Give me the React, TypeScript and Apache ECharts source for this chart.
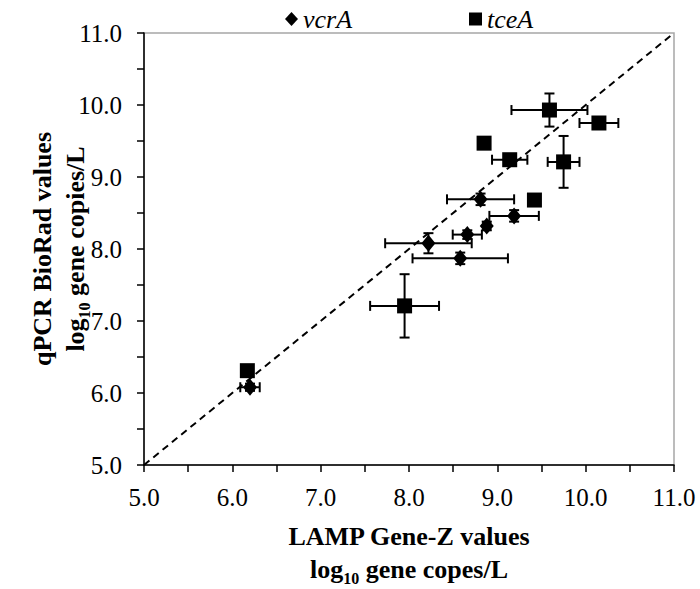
import React, { useEffect, useRef } from "react";
import * as echarts from "echarts";

// vcrA: [LAMP x, qPCR y, x error, y error]
const vcrA: number[][] = [
  [8.81, 8.69, 0.38, 0.08],
  [9.19, 8.46, 0.28, 0.08],
  [8.88, 8.32, 0.04, 0.06],
  [8.66, 8.2, 0.165, 0.06],
  [8.22, 8.08, 0.49, 0.14],
  [8.58, 7.87, 0.54, 0.08],
  [6.2, 6.08, 0.11, 0.05],
];

// tceA: [LAMP x, qPCR y, x error, y error]
const tceA: number[][] = [
  [9.59, 9.93, 0.43, 0.23],
  [10.15, 9.75, 0.22, 0.03],
  [8.85, 9.47, 0.03, 0.04],
  [9.14, 9.24, 0.2, 0.06],
  [9.75, 9.21, 0.18, 0.36],
  [9.42, 8.68, 0.02, 0.02],
  [7.95, 7.21, 0.39, 0.44],
  [6.17, 6.31, 0.02, 0.03],
];

const oneToOne: number[][] = [
  [5, 5],
  [11, 11],
];

const axisMin = 5;
const axisMax = 11;

const FONT = "Liberation Serif";

function errorBars(data: number[][], name: string) {
  return {
    type: "custom",
    name: name + "-err",
    data: data,
    z: 2,
    silent: true,
    encode: { x: 0, y: 1 },
    renderItem: (params: any, api: any) => {
      const x = api.value(0);
      const y = api.value(1);
      const ex = api.value(2);
      const ey = api.value(3);
      const c = api.coord([x, y]);
      const l = api.coord([x - ex, y]);
      const r = api.coord([x + ex, y]);
      const t = api.coord([x, y + ey]);
      const b = api.coord([x, y - ey]);
      const cap = 5;
      const style = { stroke: "#000", lineWidth: 2 };
      return {
        type: "group",
        children: [
          { type: "line", shape: { x1: l[0], y1: c[1], x2: r[0], y2: c[1] }, style },
          { type: "line", shape: { x1: l[0], y1: c[1] - cap, x2: l[0], y2: c[1] + cap }, style },
          { type: "line", shape: { x1: r[0], y1: c[1] - cap, x2: r[0], y2: c[1] + cap }, style },
          { type: "line", shape: { x1: c[0], y1: t[1], x2: c[0], y2: b[1] }, style },
          { type: "line", shape: { x1: c[0] - cap, y1: t[1], x2: c[0] + cap, y2: t[1] }, style },
          { type: "line", shape: { x1: c[0] - cap, y1: b[1], x2: c[0] + cap, y2: b[1] }, style },
        ],
      };
    },
  };
}

export default function App() {
  const ref = useRef<HTMLDivElement>(null);
  useEffect(() => {
    if (!ref.current) return;
    const chart = echarts.init(ref.current, undefined, { renderer: "svg" });
    const tickLabel = {
      fontFamily: FONT,
      fontSize: 25,
      color: "#000",
      formatter: (v: number) => (Math.abs(v - Math.round(v)) < 1e-6 ? v.toFixed(1) : ""),
    };
    const option: any = {
      animation: false,
      backgroundColor: "#fff",
      grid: {
        left: 144,
        right: 26,
        top: 33,
        bottom: 124,
        show: true,
        borderColor: "#a6a6a6",
        borderWidth: 1.5,
        containLabel: false,
      },
      legend: [
        {
          data: [{ name: "vcrA", icon: "diamond" }],
          left: 280,
          top: 1,
          itemWidth: 13,
          itemHeight: 14,
          itemGap: 6,
          textStyle: { fontFamily: FONT, fontSize: 26, fontStyle: "italic", color: "#000" },
        },
        {
          data: [{ name: "tceA", icon: "rect" }],
          left: 464,
          top: 1,
          itemWidth: 13,
          itemHeight: 13,
          textStyle: { fontFamily: FONT, fontSize: 26, fontStyle: "italic", color: "#000" },
        },
      ],
      xAxis: {
        type: "value",
        min: axisMin,
        max: axisMax,
        interval: 0.5,
        axisLine: { show: true, onZero: false, lineStyle: { color: "#000", width: 1.5 } },
        axisTick: { show: true, inside: false, length: 7, lineStyle: { color: "#000", width: 1.5 } },
        axisLabel: { ...tickLabel, margin: 20, showMaxLabel: true, showMinLabel: true },
        splitLine: { show: false },
      },
      yAxis: {
        type: "value",
        min: axisMin,
        max: axisMax,
        interval: 0.5,
        axisLine: { show: true, onZero: false, lineStyle: { color: "#000", width: 1.5 } },
        axisTick: { show: true, inside: false, length: 7, lineStyle: { color: "#000", width: 1.5 } },
        axisLabel: { ...tickLabel, margin: 22, showMaxLabel: true, showMinLabel: true },
        splitLine: { show: false },
      },
      graphic: [
        {
          type: "text",
          x: 409,
          y: 553,
          style: {
            text: "{b|LAMP Gene-Z values}\n{b|log}{s|10}{b| gene copes/L}",
            align: "center",
            verticalAlign: "middle",
            fill: "#000",
            rich: {
              b: { fontFamily: FONT, fontSize: 26, fontWeight: "bold", lineHeight: 33, verticalAlign: "middle" },
              s: { fontFamily: FONT, fontSize: 16, fontWeight: "bold", lineHeight: 16, verticalAlign: "bottom" },
            },
          },
        },
        {
          type: "text",
          x: 59,
          y: 249,
          rotation: Math.PI / 2,
          style: {
            text: "{b|qPCR BioRad values}\n{b|log}{s|10}{b| gene copies/L}",
            align: "center",
            verticalAlign: "middle",
            fill: "#000",
            rich: {
              b: { fontFamily: FONT, fontSize: 26, fontWeight: "bold", lineHeight: 33, verticalAlign: "middle" },
              s: { fontFamily: FONT, fontSize: 16, fontWeight: "bold", lineHeight: 16, verticalAlign: "bottom" },
            },
          },
        },
      ],
      series: [
        {
          type: "line",
          name: "1:1",
          data: oneToOne,
          symbol: "none",
          z: 1,
          silent: true,
          lineStyle: { color: "#000", width: 2, type: [7, 5] },
        },
        errorBars(vcrA, "vcrA"),
        errorBars(tceA, "tceA"),
        {
          type: "scatter",
          name: "vcrA",
          data: vcrA.map((d) => [d[0], d[1]]),
          symbol: "diamond",
          symbolSize: [14, 17],
          z: 3,
          itemStyle: { color: "#000", opacity: 1 },
        },
        {
          type: "scatter",
          name: "tceA",
          data: tceA.map((d) => [d[0], d[1]]),
          symbol: "rect",
          symbolSize: 15,
          z: 3,
          itemStyle: { color: "#000", opacity: 1 },
        },
      ],
    };
    chart.setOption(option);
    return () => chart.dispose();
  }, []);
  return (
    <div
      ref={ref}
      style={{ position: "fixed", left: 0, top: 0, width: 700, height: 589, background: "#fff" }}
    />
  );
}
